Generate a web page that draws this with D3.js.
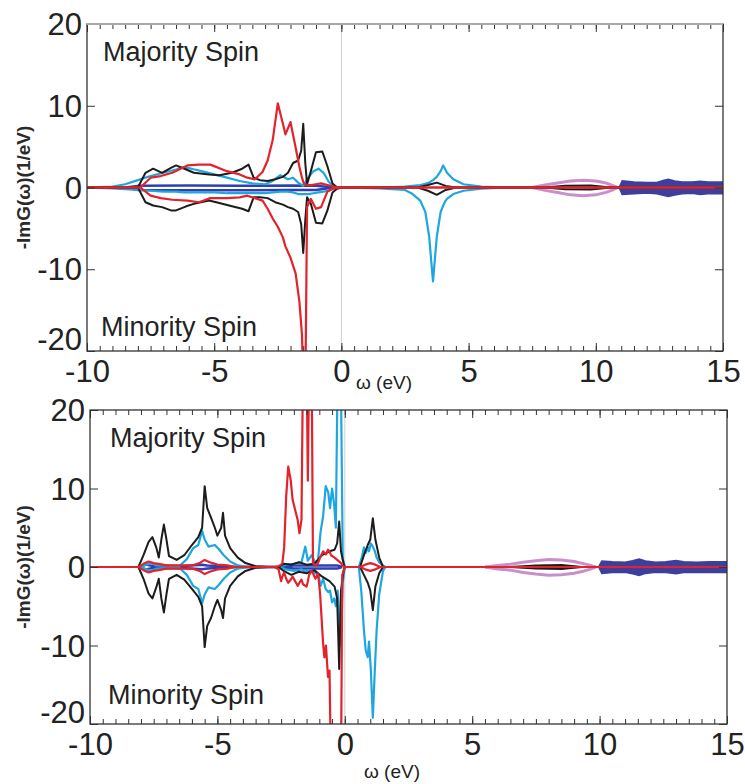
<!DOCTYPE html>
<html>
<head>
<meta charset="utf-8">
<script src="https://cdn.jsdelivr.net/npm/d3@7"></script>
<style>
  body { margin: 0; background: #fff; }
  text { font-family: "Liberation Sans", Arial, sans-serif; fill: #222; }
</style>
</head>
<body>
<svg id="chart" width="745" height="784"></svg>
<script>
/* tick labels */
var xTicks = [-10, -5, 0, 5, 10, 15]
var yTicks = [-20, -10, 0, 10, 20]

/* ---- top panel (omega in eV, -ImG in 1/eV) ---- */
var topBlackX  = [-10, -8.0, -7.7, -7.4, -7.05, -6.7, -6.5, -6.1, -5.8, -5.2, -4.8, -4.3, -3.9, -3.65, -3.45, -3.2, -2.9, -2.6, -2.3, -2.1, -1.9, -1.7, -1.58, -1.5, -1.42, -1.35, -1.2, -1.0, -0.75, -0.55, -0.35, -0.2, 0, 3.0, 3.4, 3.75, 4.1, 4.5, 8.0, 8.8, 9.8, 10.6, 15]
var topBlackUp = [0, 0, 1.8, 2.3, 1.8, 2.4, 2.7, 2.2, 1.8, 1.6, 1.5, 1.8, 2.3, 2.8, 1.2, 0.9, 0.8, 1.0, 1.3, 1.8, 3.0, 3.3, 4.5, 7.8, 3.0, 0.4, 2.0, 4.3, 4.4, 2.6, 0.5, 0.1, 0, 0, 0.3, 0.6, 0.2, 0, 0, 0.2, 0.25, 0, 0]
var topBlackDn = [0, 0, -1.8, -2.2, -2.4, -2.8, -2.8, -2.3, -2.0, -1.6, -1.9, -2.3, -2.6, -2.9, -1.2, -1.2, -1.3, -1.8, -2.1, -2.4, -2.6, -3.0, -4.5, -8.0, -4.0, -1.2, -2.0, -4.3, -4.4, -2.8, -0.6, -0.2, 0, 0, -0.4, -0.9, -0.3, 0, 0, -0.2, -0.25, 0, 0]

var topRedX  = [-10, -7.9, -7.5, -7.1, -6.65, -6.05, -5.6, -5.15, -4.5, -4.0, -3.7, -3.4, -3.1, -2.9, -2.7, -2.5, -2.3, -2.2, -2.0, -1.8, -1.65, -1.55, -1.48, -1.42, -1.35, -1.2, -1.0, -0.8, -0.55, -0.3, 0, 15]
var topRedUp = [0, 0, 1.2, 1.4, 1.8, 2.7, 2.8, 2.8, 2.0, 1.6, 1.2, 1.0, 1.9, 3.3, 5.8, 10.3, 7.8, 6.5, 8.0, 4.9, 2.5, 1.2, 0.5, 0.4, 0.3, 0.3, 0.4, 0.5, 0.3, 0.1, 0, 0]
var topRedDn = [0, 0, -1.0, -1.3, -1.5, -1.6, -1.8, -1.3, -1.3, -1.2, -1.0, -1.3, -1.6, -2.6, -3.8, -4.8, -6.1, -7.2, -8.6, -10.5, -14, -18, -26, -26, -2.4, -1.4, -2.6, -2.4, -0.5, -0.1, 0, 0]

var topCyanX  = [-10, -9.0, -8.5, -8.0, -7.5, -7.0, -6.5, -6.2, -5.9, -5.5, -5.0, -4.5, -4.0, -3.5, -3.0, -2.7, -2.4, -2.1, -1.9, -1.7, -1.5, -1.3, -1.1, -0.9, -0.7, -0.5, -0.3, 0, 1.5, 2.5, 2.8, 3.1, 3.3, 3.45, 3.6, 3.75, 3.9, 4.0, 4.1, 4.15, 4.4, 4.8, 5.5, 6.5, 15]
var topCyanUp = [0, 0.1, 0.4, 0.9, 1.4, 1.8, 2.2, 2.5, 2.3, 2.0, 1.6, 1.2, 0.8, 0.5, 0.4, 0.8, 1.5, 1.0, 1.2, 0.6, 0.2, 1.2, 2.0, 2.3, 1.8, 0.7, 0.1, 0, 0, 0.1, 0.2, 0.3, 0.45, 0.6, 0.9, 1.3, 2.0, 2.7, 2.1, 1.8, 1.0, 0.4, 0.1, 0, 0]
var topCyanDn = [0, -0.1, -0.2, -0.3, -0.4, -0.5, -0.5, -0.6, -0.6, -0.6, -0.6, -0.7, -0.7, -0.7, -0.7, -0.6, -0.5, -0.5, -0.6, -0.8, -0.8, -0.8, -0.7, -0.6, -0.5, -0.4, -0.1, 0, -0.1, -0.3, -0.8, -1.6, -3.0, -6.0, -11.5, -6.0, -3.0, -2.2, -1.6, -1.4, -0.8, -0.4, -0.15, 0, 0]

var topBlueX  = [-8.5, -8.0, -6.0, -4.0, -2.0, -1.0, -0.3]
var topBlueUp = [0, 0.2, 0.25, 0.2, 0.25, 0.2, 0]
var topBlueDn = [0, -0.3, -0.35, -0.35, -0.3, -0.3, 0]

var topPurpleX  = [7.5, 8.0, 8.5, 9.0, 9.5, 10.0, 10.4, 10.7, 10.85]
var topPurpleUp = [0, 0.3, 0.55, 0.8, 0.9, 0.8, 0.55, 0.2, 0]
var topPurpleDn = [0, -0.35, -0.6, -0.9, -1.0, -0.9, -0.6, -0.25, 0]

var topNavyX  = [10.95, 11.05, 11.5, 12.0, 12.4, 12.65, 12.85, 13.1, 13.4, 13.8, 14.1, 14.4, 15.0]
var topNavyUp = [0.1, 0.75, 0.6, 0.55, 0.55, 0.8, 0.95, 0.75, 0.6, 0.6, 0.7, 0.6, 0.6]
var topNavyDn = [-0.1, -0.8, -0.7, -0.6, -0.7, -0.9, -1.05, -0.85, -0.7, -0.65, -0.8, -0.7, -0.7]

/* ---- bottom panel ---- */
var botBlackX  = [-10, -8.1, -7.9, -7.7, -7.55, -7.4, -7.3, -7.2, -7.1, -7.0, -6.9, -6.6, -6.3, -6.0, -5.75, -5.6, -5.5, -5.4, -5.25, -5.1, -5.0, -4.85, -4.78, -4.7, -4.5, -4.2, -3.9, -3.5, -3.0, -2.6, -2.4, -2.1, -1.8, -1.5, -1.2, -0.9, -0.6, -0.4, -0.3, -0.22, -0.15, -0.05, 0, 0.6, 0.75, 0.9, 1.0, 1.1, 1.2, 1.35, 1.5, 6.5, 7.5, 8.5, 9.3, 15]
var botBlackUp = [0, 0, 1.5, 3.2, 3.8, 2.5, 1.2, 3.5, 5.4, 3.5, 1.4, 0.9, 1.5, 2.8, 3.8, 5.0, 10.3, 7.5, 6.3, 5.0, 4.0, 5.0, 6.9, 4.0, 2.4, 1.2, 0.5, 0.1, 0, 0, 0.4, 0.3, 0.6, 0.3, 0.4, 1.5, 2.0, 2.2, 3.0, 5.8, 2.0, 0.5, 0, 0, 1.5, 2.8, 3.5, 6.2, 3.5, 1.2, 0, 0, 0.2, 0.25, 0, 0]
var botBlackDn = [0, 0, -1.5, -3.4, -4.0, -2.6, -1.5, -4.0, -5.8, -3.5, -1.5, -1.0, -1.6, -2.8, -3.8, -5.0, -10.2, -7.5, -6.5, -5.0, -4.2, -5.5, -6.5, -4.0, -2.4, -1.2, -0.5, -0.1, 0, 0, -0.5, -1.0, -0.6, -0.8, -0.4, -1.2, -1.8, -2.5, -4.0, -13, -3.0, -0.5, 0, 0, -1.0, -2.0, -3.0, -5.5, -2.5, -0.8, 0, 0, -0.2, -0.25, 0, 0]

var botRedX  = [-10, -8.1, -7.9, -7.7, -7.5, -7.3, -7.0, -6.0, -5.7, -5.5, -5.3, -5.0, -4.6, -4.3, -2.75, -2.6, -2.5, -2.45, -2.38, -2.3, -2.22, -2.12, -2.05, -1.95, -1.85, -1.78, -1.7, -1.64, -1.5, -1.45, -1.4, -1.3, -1.25, -1.15, -1.05, -0.97, -0.85, -0.8, -0.74, -0.66, -0.6, -0.54, -0.4, -0.15, -0.1, 0, 0.6, 0.8, 1.0, 1.2, 1.4, 15]
var botRedUp = [0, 0, 0.4, 0.7, 0.5, 0.4, 0.2, 0.2, 0.5, 0.9, 0.6, 0.3, 0.2, 0, 0, 0.1, 0.3, 0.5, 2.5, 9.0, 12.8, 11.0, 8.6, 7.3, 6.0, 4.3, 6.0, 26, 26, 11, 26, 26, 0.5, 0.2, 0.5, 1.2, 2.0, 1.8, 1.6, 2.2, 2.0, 1.5, 1.2, 0.5, 0.2, 0, 0, 0.3, 0.5, 0.3, 0, 0]
var botRedDn = [0, 0, -0.4, -0.7, -0.5, -0.4, -0.2, -0.2, -0.5, -0.9, -0.6, -0.3, -0.2, 0, 0, -0.3, -1.8, -1.2, -0.7, -1.5, -2.0, -1.6, -1.2, -1.8, -2.4, -2.0, -1.6, -2.2, -2.5, -1.8, -1.0, -0.5, -0.8, -1.5, -0.8, -3.4, -9.8, -11.5, -10, -14, -13.2, -26, -26, -26, -1, 0, 0, -0.3, -0.5, -0.3, 0, 0]

var botCyanX  = [-10, -8.0, -7.8, -7.6, -7.4, -6.5, -6.2, -5.95, -5.75, -5.6, -5.5, -5.35, -5.1, -4.95, -4.75, -4.5, -4.2, -3.8, -2.6, -2.3, -2.0, -1.7, -1.55, -1.45, -1.3, -1.15, -1.05, -0.95, -0.85, -0.75, -0.65, -0.58, -0.5, -0.42, -0.35, -0.28, -0.16, -0.08, 0, 0.55, 0.65, 0.75, 0.82, 0.9, 0.95, 1.02, 1.1, 1.18, 1.25, 1.35, 1.5, 1.6, 15]
var botCyanUp = [0, 0, 0.3, 0.5, 0.2, 0.1, 1.0, 2.4, 2.8, 4.6, 3.5, 2.6, 2.8, 2.3, 1.5, 0.7, 0.2, 0, 0, 0.3, 0.4, 0.6, 2.6, 0.8, 1.5, 0.5, 0.9, 4.5, 6.5, 10.3, 9.5, 7.5, 10.0, 8.0, 5.0, 26, 26, 1.0, 0, 0, 1.0, 2.5, 1.8, 2.5, 2.0, 3.0, 2.6, 2.0, 1.2, 0.6, 0.2, 0, 0]
var botCyanDn = [0, 0, -0.3, -0.5, -0.2, -0.1, -1.0, -2.4, -2.8, -4.6, -3.5, -2.6, -2.8, -2.3, -1.5, -0.7, -0.2, 0, 0, -0.3, -0.5, -0.3, -0.6, -0.4, -0.6, -0.8, -0.8, -2.4, -1.5, -2.8, -3.2, -3.0, -4.5, -4.0, -5.0, -3.0, -10, -2.0, 0, 0, -3.2, -8.0, -10.6, -11.5, -9.5, -13, -19.2, -13, -8, -3.5, -0.5, 0, 0]

var botBlueX  = [-8.1, -7.8, -7.5, -7.2, -6.5, -5.6, -5.4, -4.8, -4.4, -2.6, -2.0, -1.0, -0.3, -0.1]
var botBlueUp = [0, 0.3, 0.1, 0.2, 0.1, 0.3, 0.2, 0.1, 0, 0, 0.2, 0.2, 0.2, 0]
var botBlueDn = [0, -0.3, -0.1, -0.2, -0.1, -0.3, -0.2, -0.1, 0, 0, -0.2, -0.2, -0.2, 0]

var botPurpleX  = [5.5, 6.0, 6.5, 7.0, 7.5, 8.0, 8.5, 9.0, 9.4, 9.7, 9.85]
var botPurpleUp = [0, 0.2, 0.35, 0.6, 0.8, 0.95, 0.9, 0.7, 0.4, 0.15, 0]
var botPurpleDn = [0, -0.25, -0.4, -0.7, -0.9, -1.05, -1.0, -0.8, -0.5, -0.2, 0]

var botNavyX  = [10.0, 10.1, 10.5, 11.0, 11.3, 11.55, 11.8, 12.2, 12.6, 13.0, 13.3, 13.8, 14.3, 15.0]
var botNavyUp = [0.1, 0.7, 0.6, 0.55, 0.75, 0.95, 0.7, 0.55, 0.6, 0.75, 0.6, 0.55, 0.6, 0.6]
var botNavyDn = [-0.1, -0.75, -0.65, -0.6, -0.8, -1.0, -0.75, -0.6, -0.65, -0.8, -0.65, -0.6, -0.65, -0.65]

/* colours */
var colors = {
  black: "#1c1c1c",
  red: "#e3232b",
  cyan: "#1ea6e0",
  blue: "#2d3fb4",
  navy: "#2a2a92",
  purple: "#b56ab8"
}

var svg = d3.select("#chart")

function zip(xs, ys) {
  return xs.map(function(v, i) { return [v, ys[i]] })
}

function drawPanel(p) {
  var x = d3.scaleLinear().domain([-10, 15]).range([p.left, p.right])
  var y = d3.scaleLinear().domain([-20, 20]).range([p.bottom, p.top])
  var g = svg.append("g")

  g.append("clipPath").attr("id", "clip" + p.id)
    .append("rect")
    .attr("x", p.left).attr("y", p.top)
    .attr("width", p.right - p.left).attr("height", p.bottom - p.top)

  // fermi level
  g.append("line")
    .attr("x1", x(0)).attr("x2", x(0))
    .attr("y1", p.top).attr("y2", p.bottom)
    .style("stroke", "#cfcfcf").style("stroke-width", 1)

  var plot = g.append("g").attr("clip-path", "url(#clip" + p.id + ")")
  var line = d3.line().x(function(d) { return x(d[0]) }).y(function(d) { return y(d[1]) })

  // navy band from 10-15 eV
  var area = d3.area()
    .x(function(d) { return x(d[0]) })
    .y0(function(d) { return y(d[1]) })
    .y1(function(d) { return y(d[2]) })
  plot.append("path")
    .datum(p.navyX.map(function(v, i) { return [v, p.navyDn[i], p.navyUp[i]] }))
    .attr("d", area)
    .style("fill", colors.navy).style("stroke", colors.navy)
    .style("stroke-width", 2.5).style("opacity", 0.9)

  p.series.forEach(function(s) {
    [s.up, s.dn].forEach(function(vals) {
      plot.append("path")
        .datum(zip(s.x, vals))
        .attr("d", line)
        .style("fill", "none")
        .style("stroke", colors[s.color])
        .style("stroke-width", s.width)
        .style("stroke-linejoin", "round")
        .style("opacity", s.opacity || 1)
    })
  })

  // minor ticks
  var minor = x.ticks(50)
  g.append("g").attr("transform", "translate(0," + p.bottom + ")")
    .call(d3.axisBottom(x).tickValues(minor).tickSize(-5).tickFormat(""))
    .call(function(a) { a.select(".domain").remove() })
  g.append("g").attr("transform", "translate(0," + p.top + ")")
    .call(d3.axisTop(x).tickValues(minor).tickSize(-5).tickFormat(""))
    .call(function(a) { a.select(".domain").remove() })

  // major ticks + labels
  var xb = g.append("g").attr("class", "xaxis").attr("transform", "translate(0," + p.bottom + ")")
    .call(d3.axisBottom(x).tickValues(xTicks).tickSize(-8).tickPadding(9).tickFormat(function(d) { return String(d) }))
  xb.select(".domain").remove()
  g.append("g").attr("transform", "translate(0," + p.top + ")")
    .call(d3.axisTop(x).tickValues(xTicks).tickSize(-8).tickFormat(""))
    .call(function(a) { a.select(".domain").remove() })

  var yl = g.append("g").attr("class", "yaxis").attr("transform", "translate(" + p.left + ",0)")
    .call(d3.axisLeft(y).tickValues(yTicks).tickSize(-8).tickPadding(5).tickFormat(function(d) { return String(d) }))
  yl.select(".domain").remove()
  g.append("g").attr("transform", "translate(" + p.right + ",0)")
    .call(d3.axisRight(y).tickValues(yTicks).tickSize(-8).tickFormat(""))
    .call(function(a) { a.select(".domain").remove() })

  g.selectAll(".tick line").style("stroke", "#333")
  g.selectAll(".xaxis text, .yaxis text")
    .style("font-family", "'Liberation Sans', Arial, sans-serif")
    .style("font-size", "31px").style("fill", "#222")
  yl.selectAll("text").attr("dy", "0.34em")
  // lowest y label sits a little above the corner, as in the figure
  yl.selectAll(".tick").filter(function(d) { return d === -20 }).select("text").attr("dy", "-0.06em")

  // frame
  g.append("rect")
    .attr("x", p.left).attr("y", p.top)
    .attr("width", p.right - p.left).attr("height", p.bottom - p.top)
    .style("fill", "none").style("stroke", "#333").style("stroke-width", 1.3)
  if (p.id === "top") {
    g.append("line")
      .attr("x1", p.left).attr("x2", p.right).attr("y1", p.top).attr("y2", p.top)
      .style("stroke", "#aaa").style("stroke-width", 2)
  }

  // titles
  g.append("text")
    .text("-ImG(ω)(1/eV)")
    .attr("transform", "translate(30," + y(0) + ") rotate(-90)")
    .attr("text-anchor", "middle")
    .style("font-size", "19px").style("font-weight", "bold").style("fill", "#2a2a2a")
  g.append("text").text("ω (eV)")
    .attr("x", p.xTitleX).attr("y", p.xTitleY)
    .attr("text-anchor", "middle")
    .style("font-size", "19px")
  g.append("text").text("Majority Spin")
    .attr("x", p.left + p.labelDx).attr("y", p.majY)
    .style("font-size", "27px")
  g.append("text").text("Minority Spin")
    .attr("x", p.left + p.labelDx - 2).attr("y", p.minY)
    .style("font-size", "27px")
}

drawPanel({
  id: "top", left: 87, right: 723, top: 24, bottom: 351,
  xTitleX: 384, xTitleY: 389, labelDx: 16, majY: 61, minY: 336,
  navyX: topNavyX, navyUp: topNavyUp, navyDn: topNavyDn,
  series: [
    { x: topPurpleX, up: topPurpleUp, dn: topPurpleDn, color: "purple", width: 3, opacity: 0.75 },
    { x: topBlueX, up: topBlueUp, dn: topBlueDn, color: "blue", width: 2.5 },
    { x: topCyanX, up: topCyanUp, dn: topCyanDn, color: "cyan", width: 2.2 },
    { x: topBlackX, up: topBlackUp, dn: topBlackDn, color: "black", width: 2 },
    { x: topRedX, up: topRedUp, dn: topRedDn, color: "red", width: 2.2 }
  ]
})

drawPanel({
  id: "bot", left: 90, right: 727, top: 410, bottom: 724,
  xTitleX: 392, xTitleY: 778, labelDx: 20, majY: 447, minY: 704,
  navyX: botNavyX, navyUp: botNavyUp, navyDn: botNavyDn,
  series: [
    { x: botPurpleX, up: botPurpleUp, dn: botPurpleDn, color: "purple", width: 3, opacity: 0.75 },
    { x: botBlueX, up: botBlueUp, dn: botBlueDn, color: "blue", width: 2.5 },
    { x: botCyanX, up: botCyanUp, dn: botCyanDn, color: "cyan", width: 2.2 },
    { x: botBlackX, up: botBlackUp, dn: botBlackDn, color: "black", width: 2 },
    { x: botRedX, up: botRedUp, dn: botRedDn, color: "red", width: 2.2 }
  ]
})
</script>
</body>
</html>
